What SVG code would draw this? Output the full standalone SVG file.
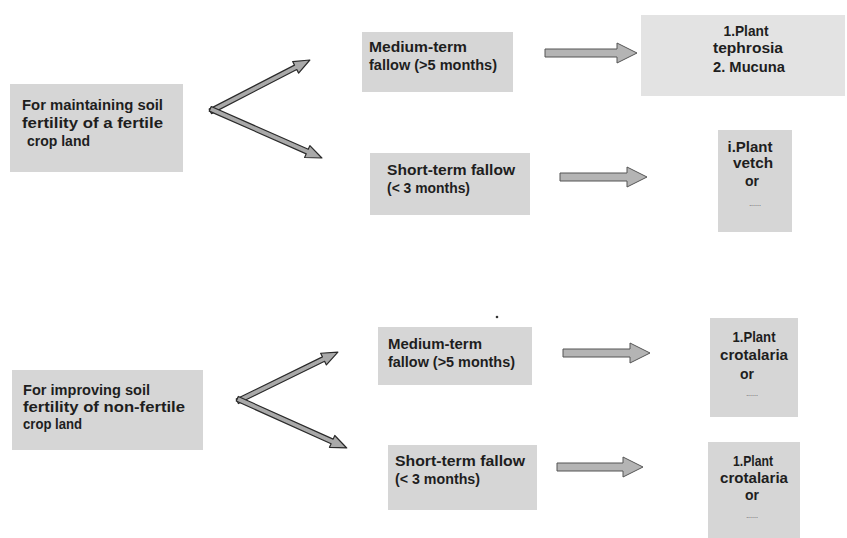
<svg xmlns="http://www.w3.org/2000/svg" width="847" height="538" viewBox="0 0 847 538">
<defs>
<style>
.box{fill:#d6d6d6;}
.boxl{fill:#e3e3e3;}
.t{font-family:"Liberation Sans",Arial,sans-serif;font-size:14px;font-weight:bold;fill:#1e1e1e;}
.c{text-anchor:middle;}
.dots{font-family:"Liberation Sans",Arial,sans-serif;font-size:7px;fill:#444;text-anchor:middle;}
.arr{fill:#a9a9a9;stroke:#2a2a2a;stroke-width:1.2;stroke-linejoin:round;}
.harr{fill:#b4b4b4;stroke:#555;stroke-width:1;stroke-linejoin:round;}
</style>
</defs>
<rect width="847" height="538" fill="#ffffff"/>

<g id="n-maintain">
<rect class="box" x="10" y="84" width="173" height="88"/>
<text class="t" x="22" y="110" textLength="141" lengthAdjust="spacingAndGlyphs">For maintaining soil</text>
<text class="t" x="22" y="128" textLength="141" lengthAdjust="spacingAndGlyphs">fertility of a fertile</text>
<text class="t" x="27" y="146" textLength="63" lengthAdjust="spacingAndGlyphs">crop land</text>
</g>

<g id="n-medium1">
<rect class="box" x="362" y="32" width="151" height="60"/>
<text class="t" x="369" y="52" textLength="98" lengthAdjust="spacingAndGlyphs">Medium-term</text>
<text class="t" x="369" y="70" textLength="128" lengthAdjust="spacingAndGlyphs">fallow (&gt;5 months)</text>
</g>

<g id="n-tephrosia">
<rect class="boxl" x="641" y="15" width="204" height="81"/>
<text class="t c" x="746" y="36" textLength="45" lengthAdjust="spacingAndGlyphs">1.Plant</text>
<text class="t c" x="748" y="53" textLength="70" lengthAdjust="spacingAndGlyphs">tephrosia</text>
<text class="t c" x="749" y="72" textLength="72" lengthAdjust="spacingAndGlyphs">2. Mucuna</text>
</g>

<g id="n-short1">
<rect class="box" x="370" y="153" width="160" height="62"/>
<text class="t" x="387" y="175" textLength="128" lengthAdjust="spacingAndGlyphs">Short-term fallow</text>
<text class="t" x="387" y="193" textLength="83" lengthAdjust="spacingAndGlyphs">(&lt; 3 months)</text>
</g>

<g id="n-vetch">
<rect class="box" x="718" y="130" width="74" height="102"/>
<text class="t c" x="750" y="152" textLength="45" lengthAdjust="spacingAndGlyphs">i.Plant</text>
<text class="t c" x="753" y="168" textLength="40" lengthAdjust="spacingAndGlyphs">vetch</text>
<text class="t c" x="752" y="186">or</text>
<text class="dots" x="755" y="206">......</text>
</g>

<g id="n-improve">
<rect class="box" x="12" y="370" width="191" height="80"/>
<text class="t" x="23" y="395" textLength="127" lengthAdjust="spacingAndGlyphs">For improving soil</text>
<text class="t" x="23" y="412" textLength="162" lengthAdjust="spacingAndGlyphs">fertility of non-fertile</text>
<text class="t" x="23" y="429" textLength="59" lengthAdjust="spacingAndGlyphs">crop land</text>
</g>

<g id="n-medium2">
<rect class="box" x="378" y="327" width="154" height="58"/>
<text class="t" x="388" y="349" textLength="94" lengthAdjust="spacingAndGlyphs">Medium-term</text>
<text class="t" x="388" y="367" textLength="127" lengthAdjust="spacingAndGlyphs">fallow (&gt;5 months)</text>
</g>

<g id="n-crotalaria1">
<rect class="box" x="710" y="318" width="88" height="99"/>
<text class="t c" x="754" y="342" textLength="43" lengthAdjust="spacingAndGlyphs">1.Plant</text>
<text class="t c" x="754" y="360" textLength="68" lengthAdjust="spacingAndGlyphs">crotalaria</text>
<text class="t c" x="747" y="379">or</text>
<text class="dots" x="752" y="396">......</text>
</g>

<g id="n-short2">
<rect class="box" x="388" y="445" width="149" height="65"/>
<text class="t" x="395" y="466" textLength="130" lengthAdjust="spacingAndGlyphs">Short-term fallow</text>
<text class="t" x="395" y="484" textLength="85" lengthAdjust="spacingAndGlyphs">(&lt; 3 months)</text>
</g>

<g id="n-crotalaria2">
<rect class="box" x="708" y="442" width="92" height="96"/>
<text class="t c" x="753" y="466" textLength="40" lengthAdjust="spacingAndGlyphs">1.Plant</text>
<text class="t c" x="754" y="483" textLength="68" lengthAdjust="spacingAndGlyphs">crotalaria</text>
<text class="t c" x="752" y="500">or</text>
<text class="dots" x="752" y="518">......</text>
</g>

<circle cx="497" cy="317" r="1.3" fill="#333"/>

<g id="connectors">
<g transform="translate(213,110) rotate(-27.3)">
<polygon class="arr" points="-3,-2.5 93,-2.5 93,-6.5 109,0 93,6.5 93,2.5 -3,2.5"/>
</g>
<g transform="translate(213,110) rotate(23.8)">
<polygon class="arr" points="-3,-2.5 103,-2.5 103,-6.5 119,0 103,6.5 103,2.5 -3,2.5"/>
</g>
<g transform="translate(240,400) rotate(-26.1)">
<polygon class="arr" points="-3,-2.5 93,-2.5 93,-6.5 109,0 93,6.5 93,2.5 -3,2.5"/>
</g>
<g transform="translate(240,400) rotate(24.2)">
<polygon class="arr" points="-3,-2.5 101,-2.5 101,-6.5 117,0 101,6.5 101,2.5 -3,2.5"/>
</g>
<polygon class="harr" points="545,49 617,49 617,43 637,53 617,63 617,57 545,57"/>
<polygon class="harr" points="560,173 627,173 627,167 647,177 627,187 627,181 560,181"/>
<polygon class="harr" points="563,349 630,349 630,343 650,353 630,363 630,357 563,357"/>
<polygon class="harr" points="557,463 623,463 623,457 643,467 623,477 623,471 557,471"/>
</g>
</svg>
